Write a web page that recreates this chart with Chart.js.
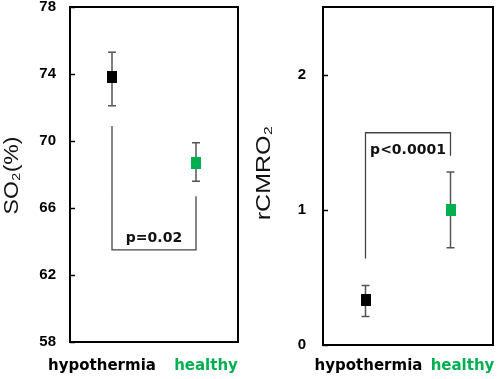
<!DOCTYPE html>
<html>
<head>
<meta charset="utf-8">
<script src="https://cdn.jsdelivr.net/npm/chart.js@4/dist/chart.umd.min.js"></script>
<style>
  body { margin: 0; background: #fff; }
  #wrap { position: relative; width: 500px; height: 379px; }
  canvas { position: absolute; top: 0; }
  #so2 { left: 0; }
  #cmro { left: 250px; }
</style>
</head>
<body>
<div id="wrap">
  <canvas id="so2" width="250" height="379"></canvas>
  <canvas id="cmro" width="250" height="379"></canvas>
</div>
<script>
const categories = ['hypothermia', 'healthy'];
const groupColors = ['#000000', '#00b050'];

// left panel: SO2 (%)
const so2Mean = [73.8, 68.7];
const so2Low = [72.1, 67.6];
const so2High = [75.3, 69.9];
const so2Ticks = [58, 62, 66, 70, 74, 78];
const so2Bracket = [70.9, 63.5, 66.7]; // start on hypothermia, bar level, end on healthy
const so2P = 'p=0.02';

// right panel: rCMRO2
const cmroMean = [0.33, 1.0];
const cmroLow = [0.21, 0.72];
const cmroHigh = [0.44, 1.28];
const cmroTicks = [0, 1, 2];
const cmroBracket = [0.64, 1.57, 1.40];
const cmroP = 'p<0.0001';

function makeBox(color) {
    const c = document.createElement('canvas');
    c.width = 10;
    c.height = 12;
    const g = c.getContext('2d');
    g.fillStyle = color;
    g.fillRect(0, 0, 10, 12);
    return c;
}
const boxes = groupColors.map(makeBox);

// frame, inside tick marks, axis title, category labels and p-value
const panelDeco = {
    id: 'panelDeco',
    afterDatasetsDraw(chart, args, opts) {
        const {ctx, chartArea: a, scales: {x, y}} = chart;
        ctx.save();
        ctx.strokeStyle = '#000';
        ctx.lineWidth = 2;
        ctx.strokeRect(a.left, a.top, a.right - a.left, a.bottom - a.top);
        ctx.lineWidth = 1.5;
        y.ticks.forEach(t => {
            const py = Math.round(y.getPixelForValue(t.value)) + 0.5;
            ctx.beginPath();
            ctx.moveTo(a.left, py);
            ctx.lineTo(a.left + 5, py);
            ctx.stroke();
        });

        // y title, a bit stretched along its length like the original figure
        ctx.save();
        ctx.translate(opts.titleX, (a.top + a.bottom) / 2 - opts.titleLift);
        ctx.rotate(-Math.PI / 2);
        ctx.scale(opts.titleStretch, 1);
        ctx.font = '20px "Liberation Sans"';
        ctx.fillStyle = '#111';
        ctx.textAlign = 'center';
        ctx.textBaseline = 'middle';
        ctx.fillText(opts.title, 0, 0);
        ctx.restore();

        ctx.font = 'bold 15px "DejaVu Sans"';
        ctx.textAlign = 'center';
        ctx.textBaseline = 'alphabetic';
        categories.forEach((c, i) => {
            ctx.fillStyle = groupColors[i];
            ctx.fillText(c, x.getPixelForValue(i) + opts.labelShift[i], 370);
        });
        ctx.font = 'bold 14px "DejaVu Sans"';
        ctx.fillStyle = '#111';
        const mid = (x.getPixelForValue(0) + x.getPixelForValue(1)) / 2;
        ctx.fillText(opts.pText, mid, y.getPixelForValue(opts.pAt));
        ctx.restore();
    }
};

function buildChart(id, cfg) {
    const datasets = [
        {
            data: cfg.mean.map((v, i) => ({x: categories[i], y: v})),
            showLine: false,
            pointStyle: boxes,
            pointRadius: 6
        },
        {
            data: [
                {x: categories[0], y: cfg.bracket[0]},
                {x: categories[0], y: cfg.bracket[1]},
                {x: categories[1], y: cfg.bracket[1]},
                {x: categories[1], y: cfg.bracket[2]}
            ],
            borderColor: '#444',
            borderWidth: 1.3,
            pointRadius: 0
        }
    ];
    categories.forEach((c, i) => {
        datasets.push({
            data: [{x: c, y: cfg.low[i]}, {x: c, y: cfg.high[i]}],
            borderColor: '#555',
            borderWidth: 1.5,
            pointStyle: 'line',
            pointRadius: 4,
            pointBorderColor: '#555',
            pointBorderWidth: 1.5
        });
    });

    return new Chart(document.getElementById(id), {
        type: 'line',
        data: {labels: categories, datasets: datasets},
        options: {
            responsive: false,
            animation: false,
            devicePixelRatio: 1,
            layout: {padding: cfg.padding},
            plugins: {
                legend: {display: false},
                tooltip: {enabled: false},
                panelDeco: {
                    labelShift: cfg.labelShift, pText: cfg.pText, pAt: cfg.pAt,
                    title: cfg.title, titleX: cfg.titleX, titleStretch: cfg.titleStretch,
                    titleLift: cfg.titleLift
                }
            },
            scales: {
                x: {
                    display: false,
                    offset: true
                },
                y: {
                    min: cfg.min,
                    max: cfg.max,
                    afterBuildTicks: scale => {
                        scale.ticks = cfg.ticks.map(v => ({value: v}));
                    },
                    afterFit: scale => {
                        scale.width = cfg.axisWidth;
                        scale.paddingTop = 0;
                        scale.paddingBottom = 0;
                    },
                    grid: {display: false, drawTicks: false},
                    border: {display: false},
                    ticks: {
                        padding: cfg.tickPad,
                        color: '#000',
                        font: {family: '"Liberation Sans"', size: 15, weight: 'bold'}
                    }
                }
            }
        },
        plugins: [panelDeco]
    });
}

buildChart('so2', {
    mean: so2Mean, low: so2Low, high: so2High, bracket: so2Bracket,
    ticks: so2Ticks, min: 58, max: 78,
    title: 'SO\u2082(%)', titleX: 12, titleStretch: 1.15, titleLift: -1,
    pText: so2P, pAt: 63.95,
    axisWidth: 70, tickPad: 14,
    padding: {left: 0, top: 6, right: 12, bottom: 37},
    labelShift: [-10, 10]
});

buildChart('cmro', {
    mean: cmroMean, low: cmroLow, high: cmroHigh, bracket: cmroBracket,
    ticks: cmroTicks, min: 0, max: 2.5,
    title: 'rCMRO\u2082', titleX: 14, titleStretch: 1.25, titleLift: 3,
    pText: cmroP, pAt: 1.41,
    axisWidth: 73, tickPad: 17,
    padding: {left: 0, top: 5, right: 2, bottom: 34},
    labelShift: [3, 12]
});
</script>
</body>
</html>
